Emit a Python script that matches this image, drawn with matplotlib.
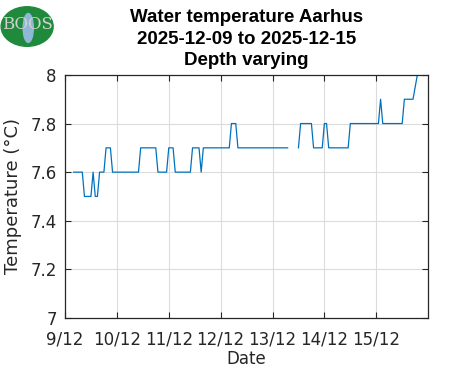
import numpy as np
import pandas as pd
import matplotlib
matplotlib.use("Agg")
import matplotlib.pyplot as plt
from matplotlib.patches import Ellipse

# hours after 2025-12-09 00:00 where the reading changes, and the reading there
hours = [4, 8, 9, 12, 13, 14, 15, 16, 18, 19, 21, 22, 34, 35, 42, 43, 47, 48, 50, 51,
         58, 59, 62, 63, 64, 76, 77, 79, 80, 103, 104,
         108, 109, 114, 115, 119, 120, 121, 122, 131, 132, 145, 146, 147, 156, 157, 161, 163]
temps = [7.6, 7.6, 7.5, 7.5, 7.6, 7.5, 7.5, 7.6, 7.6, 7.7, 7.7, 7.6, 7.6, 7.7, 7.7, 7.6, 7.6, 7.7, 7.7, 7.6,
         7.6, 7.7, 7.7, 7.6, 7.7, 7.7, 7.8, 7.8, 7.7, 7.7, np.nan,
         7.7, 7.8, 7.8, 7.7, 7.7, 7.8, 7.8, 7.7, 7.7, 7.8, 7.8, 7.9, 7.8, 7.8, 7.9, 7.9, 8.0]

day_labels = ['9/12', '10/12', '11/12', '12/12', '13/12', '14/12', '15/12']
yticks = [7, 7.2, 7.4, 7.6, 7.8, 8]

start = pd.Timestamp('2025-12-09')
times = start + pd.to_timedelta(hours, unit='h')

fig = plt.figure(figsize=(4.71, 3.71), dpi=100)
ax = fig.add_axes([0.138, 0.143, 0.771, 0.655])

ax.plot(times, temps, color='#0072BD', linewidth=0.9)

ax.set_xlim(start, start + pd.Timedelta(days=7))
ax.set_ylim(7, 8)
ticks = [start + pd.Timedelta(days=i) for i in range(len(day_labels))]
ax.set_xticks(ticks)
ax.set_xticklabels(day_labels)
ax.set_yticks(yticks)
ax.set_yticklabels(['7', '7.2', '7.4', '7.6', '7.8', '8'])

ax.grid(True, color='#dcdcdc', linewidth=0.8)
ax.set_axisbelow(True)
ax.tick_params(direction='in', length=4, labelsize=12, colors='#262626',
               top=True, right=True, width=0.8)
ax.tick_params(axis='x', pad=9)
ax.tick_params(axis='y', pad=6)
for s in ax.spines.values():
    s.set_color('#262626')
    s.set_linewidth(0.9)

ax.set_xlabel('Date', fontsize=12, color='#262626', labelpad=1)
ax.set_ylabel('Temperature (°C)', fontsize=13, color='#262626', labelpad=6)
ax.set_title('Water temperature Aarhus\n2025-12-09 to 2025-12-15\nDepth varying',
             fontsize=13.5, fontweight='bold', family='Liberation Sans',
             linespacing=1.35, pad=7)

# logo
lax = fig.add_axes([0.0, 0.87, 0.12, 0.13])
lax.set_xlim(0, 1)
lax.set_ylim(0, 1)
lax.axis('off')
lax.add_patch(Ellipse((0.48, 0.45), 0.92, 0.82, color='#1f8a3b'))
lax.add_patch(Ellipse((0.5, 0.42), 0.18, 0.6, color='#8fb7d6'))
lax.text(0.48, 0.5, 'BOOS', fontsize=12, family='DejaVu Serif', color='#d0d0d0',
         ha='center', va='center')

fig.savefig('out.png', dpi=100)
